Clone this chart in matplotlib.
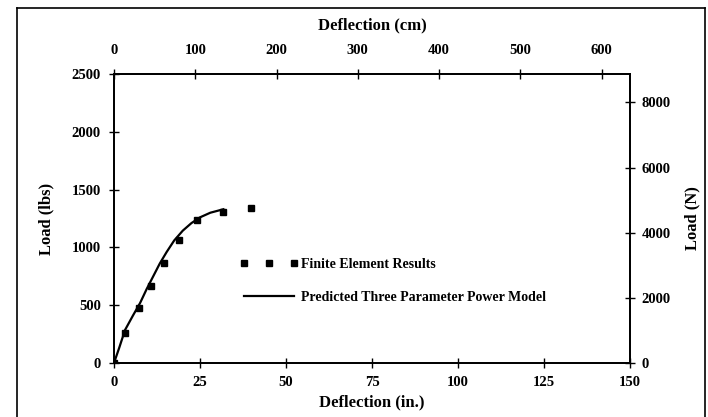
import matplotlib.pyplot as plt
from matplotlib.lines import Line2D

# finite element results (deflection in., load lbs)
fe_x = [0, 3.2, 7.4, 10.8, 14.5, 18.8, 24.0, 31.6, 39.7]
fe_y = [0, 260, 478, 666, 868, 1064, 1237, 1309, 1343]

# predicted three parameter power model
model_x = [0, 1.5, 3.2, 5.5, 7.6, 9.5, 11.4, 13.3, 15.3, 17.5, 20.0, 22.5, 25.0, 28.0, 31.8]
model_y = [0, 130, 285, 410, 520, 640, 750, 860, 960, 1060, 1145, 1210, 1260, 1300, 1330]

in_ticks = [0, 25, 50, 75, 100, 125, 150]
lbs_ticks = [0, 500, 1000, 1500, 2000, 2500]
cm_ticks = [0, 100, 200, 300, 400, 500, 600]
n_ticks = [0, 2000, 4000, 6000, 8000]

plt.rcParams['font.family'] = ['Liberation Serif', 'DejaVu Serif']
plt.rcParams['font.weight'] = 'bold'

fig = plt.figure(figsize=(7.08, 4.17), dpi=100)
ax = fig.add_axes([114 / 708, 54 / 417, 516 / 708, 289 / 417])

ax.plot(model_x, model_y, color='black', lw=1.6, label='Predicted Three Parameter Power Model', zorder=3)
ax.plot(fe_x, fe_y, 's', color='black', ms=4.5, label='Finite Element Results', zorder=4)

ax.set_xlim(0, 150)
ax.set_ylim(0, 2500)
ax.set_xticks(in_ticks)
ax.set_yticks(lbs_ticks)
ax.set_xlabel('Deflection (in.)', fontsize=12, fontweight='bold', labelpad=4)
ax.set_ylabel('Load (lbs)', fontsize=12, fontweight='bold', labelpad=12)
ax.tick_params(direction='inout', length=7, width=1, labelsize=10.5, pad=6)

# top axis in cm
axt = ax.twiny()
axt.set_xlim(0, 635)
axt.set_xticks(cm_ticks)
axt.set_xlabel('Deflection (cm)', fontsize=12, fontweight='bold', labelpad=10)
axt.tick_params(direction='inout', length=7, width=1, labelsize=10.5, pad=9)

# right axis in N
axr = ax.twinx()
axr.set_ylim(0, 8870)
axr.set_yticks(n_ticks)
axr.set_ylabel('Load (N)', fontsize=12, fontweight='bold', labelpad=10)
axr.tick_params(direction='inout', length=7, width=1, labelsize=10.5, pad=5)

for a in (ax, axt, axr):
    for s in a.spines.values():
        s.set_linewidth(1.1)
    for lab in a.get_xticklabels() + a.get_yticklabels():
        lab.set_fontweight('bold')

handles = [Line2D([], [], ls='none', marker='s', color='black', ms=4.5),
           Line2D([], [], color='black', lw=1.6)]
leg = ax.legend(handles, ['Finite Element Results', 'Predicted Three Parameter Power Model'],
                loc='upper left', bbox_to_anchor=(0.219, 0.408), frameon=False,
                numpoints=3, handlelength=4.2, handletextpad=0.2, labelspacing=1.45,
                prop={'size': 10, 'weight': 'bold'})

# outer frame of the scanned figure
fig.add_artist(Line2D([17 / 708, 17 / 708], [0, 1 - 8 / 417], color='black', lw=1.2, transform=fig.transFigure))
fig.add_artist(Line2D([17 / 708, 705 / 708], [1 - 8 / 417, 1 - 8 / 417], color='black', lw=1.2, transform=fig.transFigure))
fig.add_artist(Line2D([705 / 708, 705 / 708], [0, 1 - 8 / 417], color='black', lw=1.2, transform=fig.transFigure))

fig.savefig('out.png', dpi=100)
